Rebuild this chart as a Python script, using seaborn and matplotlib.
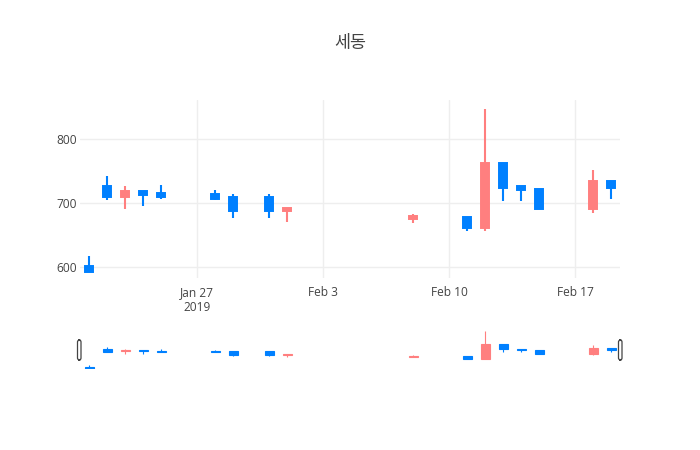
import pandas as pd
import seaborn as sns
import matplotlib.pyplot as plt
import matplotlib.dates as mdates
from matplotlib.patches import FancyBboxPatch

dates = ["2019-01-21", "2019-01-22", "2019-01-23", "2019-01-24", "2019-01-25",
         "2019-01-28", "2019-01-29", "2019-01-31", "2019-02-01", "2019-02-08",
         "2019-02-11", "2019-02-12", "2019-02-13", "2019-02-14", "2019-02-15",
         "2019-02-18", "2019-02-19"]
open_ = [602, 727, 710, 719, 715, 714, 710, 710, 688, 675, 679, 661, 762, 727, 722, 691, 734]
high = [618, 743, 727, 719, 728, 720, 714, 714, 692, 683, 679, 847, 762, 727, 722, 752, 734]
low = [592, 705, 690, 695, 707, 705, 677, 677, 670, 669, 656, 657, 703, 704, 690, 684, 707]
close = [592, 709, 719, 712, 709, 707, 688, 688, 692, 680, 661, 762, 724, 720, 690, 734, 723]

tick_dates = ["2019-01-27", "2019-02-03", "2019-02-10", "2019-02-17"]
tick_labels = ["Jan 27\n2019", "Feb 3", "Feb 10", "Feb 17"]
y_ticks = [600, 700, 800]

UP = "#FF7F7F"
DOWN = "#0080FF"

df = pd.DataFrame({"date": pd.to_datetime(dates), "open": open_, "high": high,
                   "low": low, "close": close})
df["x"] = mdates.date2num(df["date"])
df["color"] = [UP if c > o else DOWN for o, c in zip(df["open"], df["close"])]

sns.set_theme(style="white")
plt.rcParams["font.family"] = ["Open Sans", "Noto Sans CJK KR", "DejaVu Sans"]

fig = plt.figure(figsize=(7, 4.5), dpi=100)
W, H = 700, 450


def draw_candles(ax, lw_wick, lw_box, width):
    for _, r in df.iterrows():
        ax.vlines(r["x"], r["low"], r["high"], color=r["color"], lw=lw_wick, zorder=2)
        lo = min(r["open"], r["close"])
        hgt = abs(r["close"] - r["open"])
        ax.bar(r["x"], hgt, bottom=lo, width=width, color=r["color"],
               edgecolor=r["color"], linewidth=lw_box, zorder=3)


xmin = mdates.date2num(pd.Timestamp("2019-01-20 12:00"))
xmax = mdates.date2num(pd.Timestamp("2019-02-19 12:00"))

ax = fig.add_axes([80 / W, 1 - 278 / H, 540 / W, 178 / H])
draw_candles(ax, 1.5, 1.4, 0.47)
ax.set_xlim(xmin, xmax)
ax.set_ylim(583, 861)
ax.set_yticks(y_ticks)
ax.set_xticks(mdates.date2num(pd.to_datetime(tick_dates)))
ax.set_xticklabels(tick_labels)
ax.grid(True, color="#eeeeee", lw=1, zorder=0)
ax.set_axisbelow(True)
for s in ax.spines.values():
    s.set_visible(False)
ax.tick_params(axis="both", length=0, labelsize=8.6, labelcolor="#444444")
ax.tick_params(axis="y", pad=2)
ax.tick_params(axis="x", pad=6)

# range slider
sl = fig.add_axes([80 / W, 1 - 369 / H, 540 / W, 38 / H])
draw_candles(sl, 0.8, 0.8, 0.5)
sl.set_xlim(xmin, xmax)
sl.set_ylim(590, 850)
sl.set_xticks([])
sl.set_yticks([])
for s in sl.spines.values():
    s.set_visible(False)
sl.patch.set_alpha(0)

for hx in (77.5, 618.5):
    fig.patches.append(FancyBboxPatch((hx / W, 1 - 360 / H), 3.5 / W, 20 / H,
                                      boxstyle="round,pad=0,rounding_size=0.004",
                                      transform=fig.transFigure, facecolor="white",
                                      edgecolor="#444444", lw=0.9, zorder=5))

fig.text(0.5, 1 - 44 / H, "세동", ha="center", va="center", fontsize=12.5, color="#444444")

fig.savefig("out.png", dpi=100)
